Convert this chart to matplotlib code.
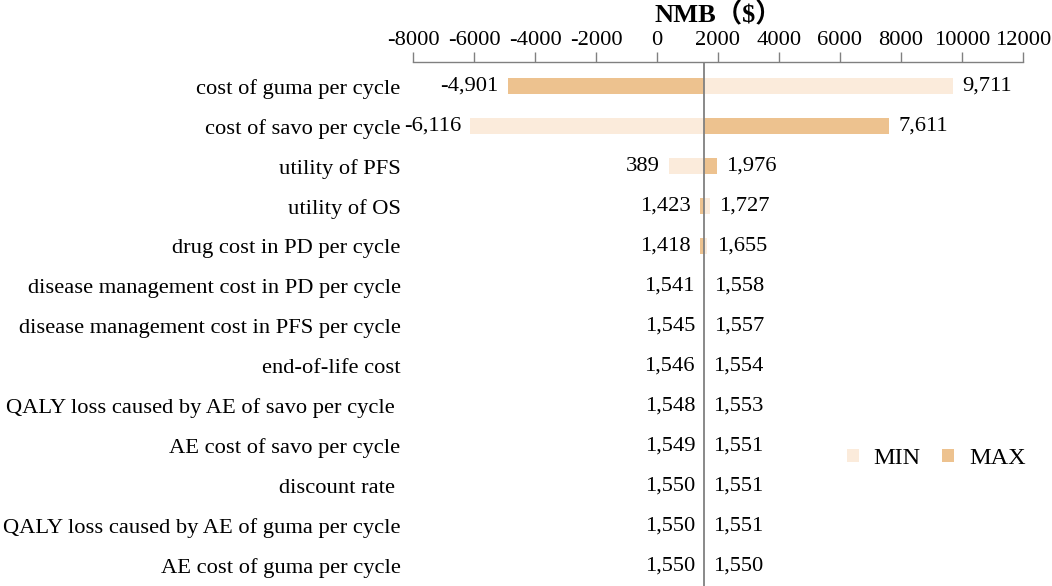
import matplotlib
matplotlib.use("Agg")
import matplotlib.pyplot as plt
import numpy as np

plt.rcParams['font.family'] = ['Liberation Serif', 'Noto Sans CJK SC', 'DejaVu Sans']

params = [
    "cost of guma per cycle",
    "cost of savo per cycle",
    "utility of PFS",
    "utility of OS",
    "drug cost in PD per cycle",
    "disease management cost in PD per cycle",
    "disease management cost in PFS per cycle",
    "end-of-life cost",
    "QALY loss caused by AE of savo per cycle ",
    "AE cost of savo per cycle",
    "discount rate ",
    "QALY loss caused by AE of guma per cycle",
    "AE cost of guma per cycle",
]
min_vals = [9711, -6116, 389, 1727, 1655, 1558, 1557, 1554, 1553, 1551, 1551, 1551, 1550]
max_vals = [-4901, 7611, 1976, 1423, 1418, 1541, 1545, 1546, 1548, 1549, 1550, 1550, 1550]
base = 1550
xticks = [-8000, -6000, -4000, -2000, 0, 2000, 4000, 6000, 8000, 10000, 12000]

c_min = "#FBEBDB"
c_max = "#EDC28F"
FS = 16.2

fig = plt.figure(figsize=(10.52, 5.86), dpi=100)
ax = fig.add_axes([0.3926, 0.0, 0.5798, 0.894])

y = np.arange(len(params))
h = 0.4
ax.barh(y, np.array(min_vals) - base, left=base, height=h, color=c_min, label="MIN")
ax.barh(y, np.array(max_vals) - base, left=base, height=h, color=c_max, label="MAX")

ax.set_xlim(-8000, 12000)
ax.set_ylim(12.5, -0.6)
ax.axvline(base, color="#808080", lw=1.3, zorder=3)

ax.xaxis.set_ticks_position('top')
ax.xaxis.set_label_position('top')
ax.set_xticks(xticks)
ax.set_xticklabels([str(t) for t in xticks], fontsize=FS)
ax.tick_params(axis='x', direction='out', length=7, color="#808080", width=1, pad=2)
ax.set_yticks(y)
ax.set_yticklabels(params, fontsize=FS)
ax.tick_params(axis='y', length=0, pad=9)
for s in ['right', 'bottom', 'left']:
    ax.spines[s].set_visible(False)
ax.spines['top'].set_color("#808080")
ax.spines['top'].set_linewidth(1)
ax.set_xlabel("NMB（$）", fontsize=19, fontweight='bold', labelpad=6)

off = 300
for i, (a, b) in enumerate(zip(min_vals, max_vals)):
    lo, hi = min(a, b), max(a, b)
    ax.text(min(lo, base) - off, i, f"{lo:,}", ha='right', va='center', fontsize=FS)
    ax.text(max(hi, base) + off, i, f"{hi:,}", ha='left', va='center', fontsize=FS)

leg = ax.legend(loc='center left', bbox_to_anchor=(0.675, 0.243), ncol=2, frameon=False,
                fontsize=17.5, handlelength=0.5, handleheight=0.5, columnspacing=0.9,
                handletextpad=0.6)

fig.savefig("out.png", dpi=100)
